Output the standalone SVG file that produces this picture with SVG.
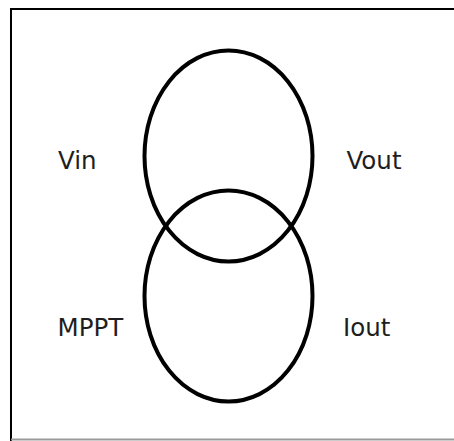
<svg xmlns="http://www.w3.org/2000/svg" width="454" height="441" viewBox="0 0 454 441">
<style>
.ring{fill:none;stroke:#000;stroke-width:4}
.lbl{font-family:"DejaVu Sans",sans-serif;font-size:24.5px;fill:#1e1e1e}
.frame{stroke:#000;stroke-width:2;fill:none}
</style>
<rect width="454" height="441" fill="#fff"/>
<g id="frame">
<path class="frame" d="M11,441 V9 H454"/>
<line x1="11" y1="439.5" x2="454" y2="439.5" stroke="#999" stroke-width="2"/>
</g>
<g id="connectors"></g>
<g id="top-ellipse"><ellipse class="ring" cx="228.5" cy="156" rx="84" ry="105.5"/></g>
<g id="bottom-ellipse"><ellipse class="ring" cx="228.5" cy="296" rx="84" ry="105.5"/></g>
<g id="vin"><text class="lbl" x="58" y="169">Vin</text></g>
<g id="vout"><text class="lbl" x="346.5" y="169">Vout</text></g>
<g id="mppt"><text class="lbl" x="57.5" y="336">MPPT</text></g>
<g id="iout"><text class="lbl" x="343" y="336">Iout</text></g>
</svg>
